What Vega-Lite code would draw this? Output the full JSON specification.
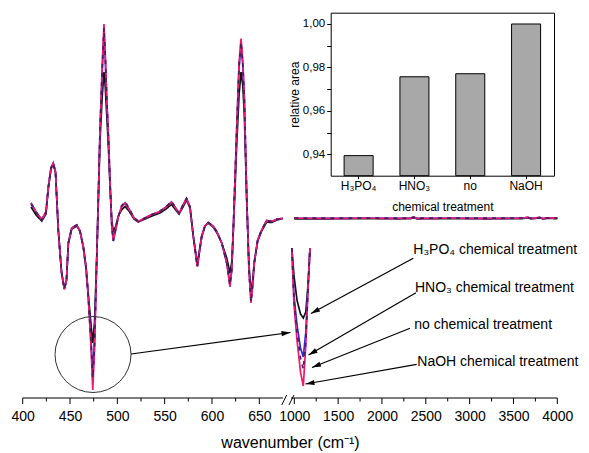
{
  "$schema": "https://vega.github.io/schema/vega-lite/v6.json",
  "width": 589,
  "height": 398,
  "autosize": {"type": "none"},
  "padding": {"left": 0, "top": 0, "right": 0, "bottom": 55},
  "background": "white",
  "config": {
    "font": "Liberation Sans",
    "view": {"stroke": null},
    "legend": {"disable": true},
    "axis": {"grid": false, "labelColor": "#000", "titleColor": "#000", "domainColor": "#000", "tickColor": "#000", "titleFontWeight": "normal", "labelFont": "Liberation Sans", "titleFont": "Liberation Sans"}
  },
  "datasets": {
    "spec": [
      {"seg":"low","wn":408.8,"H3PO4":95.5,"HNO3":97.5,"NaOH":97.5,"no":97},
      {"seg":"low","wn":414.1,"H3PO4":91.5,"HNO3":93,"NaOH":93,"no":93},
      {"seg":"low","wn":420.1,"H3PO4":88.5,"HNO3":89.25,"NaOH":89.25,"no":88.75},
      {"seg":"low","wn":424.6,"H3PO4":92,"HNO3":93,"NaOH":93,"no":93},
      {"seg":"low","wn":427.1,"H3PO4":105,"HNO3":105.5,"NaOH":105.5,"no":105.5},
      {"seg":"low","wn":429.9,"H3PO4":114.5,"HNO3":115,"NaOH":115,"no":115},
      {"seg":"low","wn":432.3,"H3PO4":117,"HNO3":117.5,"NaOH":117.5,"no":117.5},
      {"seg":"low","wn":434.7,"H3PO4":112.5,"HNO3":113,"NaOH":113,"no":113},
      {"seg":"low","wn":437.6,"H3PO4":84,"HNO3":84,"NaOH":84,"no":84},
      {"seg":"low","wn":441.0,"H3PO4":63,"HNO3":63,"NaOH":63,"no":63},
      {"seg":"low","wn":444.0,"H3PO4":54.5,"HNO3":54.5,"NaOH":54.5,"no":54.5},
      {"seg":"low","wn":446.3,"H3PO4":59,"HNO3":59,"NaOH":59,"no":59},
      {"seg":"low","wn":448.2,"H3PO4":77,"HNO3":77.5,"NaOH":77.5,"no":77.5},
      {"seg":"low","wn":451.8,"H3PO4":84.5,"HNO3":85,"NaOH":85,"no":85},
      {"seg":"low","wn":457.1,"H3PO4":86,"HNO3":86.5,"NaOH":86.5,"no":86.5},
      {"seg":"low","wn":460.5,"H3PO4":83.5,"HNO3":83.5,"NaOH":83.5,"no":83.5},
      {"seg":"low","wn":464.0,"H3PO4":76,"HNO3":75.5,"NaOH":75.5,"no":75.5},
      {"seg":"low","wn":466.9,"H3PO4":66,"HNO3":65,"NaOH":65,"no":65},
      {"seg":"low","wn":469.3,"H3PO4":52,"HNO3":50.5,"NaOH":50.5,"no":50.5},
      {"seg":"low","wn":472.2,"H3PO4":36.5,"HNO3":29,"NaOH":25.5,"no":27.5},
      {"seg":"low","wn":474.0,"H3PO4":27.5,"HNO3":13,"NaOH":4,"no":10},
      {"seg":"low","wn":475.9,"H3PO4":38,"HNO3":29,"NaOH":24,"no":26.5},
      {"seg":"low","wn":478.2,"H3PO4":70,"HNO3":69,"NaOH":67.5,"no":68},
      {"seg":"low","wn":480.1,"H3PO4":101.5,"HNO3":104,"NaOH":104,"no":104},
      {"seg":"low","wn":481.7,"H3PO4":129,"HNO3":134,"NaOH":134,"no":134},
      {"seg":"low","wn":484.1,"H3PO4":151.5,"HNO3":164,"NaOH":167.5,"no":165.5},
      {"seg":"low","wn":485.9,"H3PO4":163,"HNO3":183,"NaOH":187,"no":185},
      {"seg":"low","wn":487.3,"H3PO4":155,"HNO3":169,"NaOH":171.5,"no":170},
      {"seg":"low","wn":488.8,"H3PO4":141.5,"HNO3":149,"NaOH":150.5,"no":150},
      {"seg":"low","wn":490.7,"H3PO4":124,"HNO3":129,"NaOH":129,"no":129},
      {"seg":"low","wn":492.2,"H3PO4":106.5,"HNO3":109,"NaOH":109,"no":109},
      {"seg":"low","wn":494.1,"H3PO4":89,"HNO3":86.5,"NaOH":86.5,"no":86.5},
      {"seg":"low","wn":495.7,"H3PO4":83.5,"HNO3":78.5,"NaOH":79,"no":78.5},
      {"seg":"low","wn":498.1,"H3PO4":85.5,"HNO3":84,"NaOH":84,"no":84},
      {"seg":"low","wn":501.0,"H3PO4":91,"HNO3":90.5,"NaOH":90.5,"no":90.5},
      {"seg":"low","wn":504.4,"H3PO4":94,"HNO3":95.5,"NaOH":95.5,"no":96},
      {"seg":"low","wn":508.1,"H3PO4":95.75,"HNO3":97.5,"NaOH":97.5,"no":98.25},
      {"seg":"low","wn":512.3,"H3PO4":93.5,"HNO3":94.5,"NaOH":94.5,"no":95},
      {"seg":"low","wn":517.6,"H3PO4":89.5,"HNO3":90,"NaOH":90,"no":90},
      {"seg":"low","wn":522.1,"H3PO4":88,"HNO3":88.25,"NaOH":88.25,"no":88.5},
      {"seg":"low","wn":529.2,"H3PO4":89.5,"HNO3":90,"NaOH":90,"no":90},
      {"seg":"low","wn":536.6,"H3PO4":91,"HNO3":91.75,"NaOH":91.75,"no":91.75},
      {"seg":"low","wn":545.1,"H3PO4":92.5,"HNO3":93.25,"NaOH":93.25,"no":93.5},
      {"seg":"low","wn":551.4,"H3PO4":94.5,"HNO3":95.5,"NaOH":95.5,"no":95.5},
      {"seg":"low","wn":557.2,"H3PO4":96.75,"HNO3":98,"NaOH":98,"no":98.5},
      {"seg":"low","wn":560.9,"H3PO4":94.5,"HNO3":95.5,"NaOH":95.5,"no":95.5},
      {"seg":"low","wn":565.2,"H3PO4":92,"HNO3":92.25,"NaOH":92.25,"no":92.25},
      {"seg":"low","wn":569.4,"H3PO4":95.5,"HNO3":96.5,"NaOH":96.5,"no":96.5},
      {"seg":"low","wn":573.1,"H3PO4":99,"HNO3":99.75,"NaOH":99.75,"no":99.75},
      {"seg":"low","wn":576.8,"H3PO4":95,"HNO3":95.5,"NaOH":95.5,"no":95.5},
      {"seg":"low","wn":580.3,"H3PO4":81,"HNO3":80.5,"NaOH":80.5,"no":80.5},
      {"seg":"low","wn":584.5,"H3PO4":67,"HNO3":65.75,"NaOH":65.75,"no":65.75},
      {"seg":"low","wn":589.1,"H3PO4":81,"HNO3":80.5,"NaOH":80.5,"no":80.5},
      {"seg":"low","wn":592.6,"H3PO4":86,"HNO3":86,"NaOH":86,"no":86},
      {"seg":"low","wn":596.1,"H3PO4":87.5,"HNO3":87.65,"NaOH":87.65,"no":87.65},
      {"seg":"low","wn":601.1,"H3PO4":85.5,"HNO3":86,"NaOH":86,"no":86},
      {"seg":"low","wn":605.3,"H3PO4":82.5,"HNO3":83,"NaOH":83,"no":83},
      {"seg":"low","wn":610.3,"H3PO4":77.5,"HNO3":77.5,"NaOH":77.5,"no":77.5},
      {"seg":"low","wn":615.6,"H3PO4":70,"HNO3":67.5,"NaOH":67.5,"no":67.5},
      {"seg":"low","wn":619.0,"H3PO4":62.5,"HNO3":57.5,"NaOH":55.5,"no":56.5},
      {"seg":"low","wn":620.9,"H3PO4":68,"HNO3":64,"NaOH":64,"no":64},
      {"seg":"low","wn":622.5,"H3PO4":83,"HNO3":84,"NaOH":84,"no":84},
      {"seg":"low","wn":624.3,"H3PO4":104,"HNO3":109,"NaOH":109,"no":109},
      {"seg":"low","wn":626.1,"H3PO4":126.5,"HNO3":134,"NaOH":134,"no":134},
      {"seg":"low","wn":628.6,"H3PO4":151.5,"HNO3":165,"NaOH":167.5,"no":166},
      {"seg":"low","wn":630.7,"H3PO4":163,"HNO3":176.5,"NaOH":179.75,"no":178},
      {"seg":"low","wn":632.5,"H3PO4":156.5,"HNO3":166.5,"NaOH":169,"no":167.5},
      {"seg":"low","wn":634.2,"H3PO4":141.5,"HNO3":149,"NaOH":150.5,"no":150},
      {"seg":"low","wn":636.7,"H3PO4":99,"HNO3":100.5,"NaOH":100.5,"no":100.5},
      {"seg":"low","wn":639.1,"H3PO4":66.5,"HNO3":64,"NaOH":64,"no":64},
      {"seg":"low","wn":641.2,"H3PO4":52.5,"HNO3":49,"NaOH":47.5,"no":48},
      {"seg":"low","wn":643.0,"H3PO4":59,"HNO3":56.5,"NaOH":56.5,"no":56.5},
      {"seg":"low","wn":644.7,"H3PO4":68,"HNO3":67.5,"NaOH":67.5,"no":67.5},
      {"seg":"low","wn":648.3,"H3PO4":78.5,"HNO3":79,"NaOH":79,"no":79},
      {"seg":"low","wn":652.5,"H3PO4":83.5,"HNO3":84,"NaOH":84,"no":84},
      {"seg":"low","wn":657.8,"H3PO4":88,"HNO3":88.75,"NaOH":88.75,"no":88.75},
      {"seg":"low","wn":663.1,"H3PO4":87.75,"HNO3":88.25,"NaOH":88.25,"no":88.25},
      {"seg":"low","wn":668.4,"H3PO4":89,"HNO3":89.35,"NaOH":89.35,"no":89.35},
      {"seg":"low","wn":675,"H3PO4":89.75,"HNO3":89.85,"NaOH":89.85,"no":89.85},
      {"seg":"high","wn":1000,"H3PO4":89.6,"HNO3":89.9,"NaOH":89.9,"no":90},
      {"seg":"high","wn":1400,"H3PO4":89.6,"HNO3":89.8,"NaOH":89.8,"no":89.9},
      {"seg":"high","wn":1800,"H3PO4":89.7,"HNO3":89.9,"NaOH":89.9,"no":89.9},
      {"seg":"high","wn":2200,"H3PO4":89.6,"HNO3":89.8,"NaOH":89.8,"no":89.9},
      {"seg":"high","wn":2330,"H3PO4":89.7,"HNO3":89.9,"NaOH":89.9,"no":90},
      {"seg":"high","wn":2360,"H3PO4":90.1,"HNO3":90.3,"NaOH":90.5,"no":90.4},
      {"seg":"high","wn":2400,"H3PO4":89.6,"HNO3":89.8,"NaOH":89.8,"no":89.9},
      {"seg":"high","wn":2800,"H3PO4":89.7,"HNO3":89.9,"NaOH":89.9,"no":89.9},
      {"seg":"high","wn":3200,"H3PO4":89.6,"HNO3":89.8,"NaOH":89.8,"no":89.9},
      {"seg":"high","wn":3600,"H3PO4":89.7,"HNO3":89.9,"NaOH":89.9,"no":90},
      {"seg":"high","wn":3660,"H3PO4":90.1,"HNO3":90.3,"NaOH":90.4,"no":90.3},
      {"seg":"high","wn":3700,"H3PO4":89.6,"HNO3":89.8,"NaOH":89.8,"no":89.8},
      {"seg":"high","wn":3800,"H3PO4":90,"HNO3":90.2,"NaOH":90.3,"no":90.2},
      {"seg":"high","wn":3840,"H3PO4":89.5,"HNO3":89.7,"NaOH":89.7,"no":89.7},
      {"seg":"high","wn":3880,"H3PO4":89.8,"HNO3":90,"NaOH":90.1,"no":90},
      {"seg":"high","wn":4000,"H3PO4":89.7,"HNO3":89.9,"NaOH":89.9,"no":89.9},
      {"seg":"zoom","wn":928.4,"H3PO4":75,"HNO3":75,"NaOH":75,"no":75},
      {"seg":"zoom","wn":991.4,"H3PO4":61,"HNO3":51,"NaOH":46.5,"no":49},
      {"seg":"zoom","wn":1030.8,"H3PO4":49,"HNO3":36.5,"NaOH":29,"no":33},
      {"seg":"zoom","wn":1070.7,"H3PO4":42,"HNO3":25,"NaOH":13,"no":20},
      {"seg":"zoom","wn":1102.7,"H3PO4":40,"HNO3":20.5,"NaOH":6,"no":14.5},
      {"seg":"zoom","wn":1131.2,"H3PO4":43,"HNO3":33,"NaOH":26.5,"no":29},
      {"seg":"zoom","wn":1156.3,"H3PO4":56.5,"HNO3":55,"NaOH":54,"no":54},
      {"seg":"zoom","wn":1179.1,"H3PO4":75,"HNO3":75,"NaOH":75,"no":75}
    ],
    "axisticks": [
      {"wn":400,"a":0,"kind":"major"},{"wn":450,"a":0,"kind":"major"},{"wn":500,"a":0,"kind":"major"},{"wn":550,"a":0,"kind":"major"},{"wn":600,"a":0,"kind":"major"},{"wn":650,"a":0,"kind":"major"},
      {"wn":1000,"a":0,"kind":"major"},{"wn":1500,"a":0,"kind":"major"},{"wn":2000,"a":0,"kind":"major"},{"wn":2500,"a":0,"kind":"major"},{"wn":3000,"a":0,"kind":"major"},{"wn":3500,"a":0,"kind":"major"},{"wn":4000,"a":0,"kind":"major"},
      {"wn":425,"a":0,"kind":"minor"},{"wn":475,"a":0,"kind":"minor"},{"wn":525,"a":0,"kind":"minor"},{"wn":575,"a":0,"kind":"minor"},{"wn":625,"a":0,"kind":"minor"},
      {"wn":1250,"a":0,"kind":"minor"},{"wn":1750,"a":0,"kind":"minor"},{"wn":2250,"a":0,"kind":"minor"},{"wn":2750,"a":0,"kind":"minor"},{"wn":3250,"a":0,"kind":"minor"},{"wn":3750,"a":0,"kind":"minor"}
    ],
    "arrows": [
      {"id":"circ","wn":891.1,"a":32.75,"wn2":514.4,"a2":22},
      {"id":"H3PO4","wn":1190.5,"a":42.25,"wn2":2357.3,"a2":69.85},
      {"id":"HNO3","wn":1162.0,"a":21.5,"wn2":2388.1,"a2":52.65},
      {"id":"no","wn":1201.9,"a":15.25,"wn2":2319.7,"a2":34.85},
      {"id":"NaOH","wn":1127.7,"a":7,"wn2":2396.1,"a2":16.85}
    ],
    "texts": [
      {"label":"H₃PO₄ chemical treatment","wn":2357.3,"a":74},
      {"label":"HNO₃ chemical treatment","wn":2376.7,"a":55},
      {"label":"no chemical treatment","wn":2368.7,"a":36.65},
      {"label":"NaOH chemical treatment","wn":2403,"a":18.15}
    ],
    "axisbits": [
      {"part":"line","wn":400,"a":0,"wn2":675,"a2":0},
      {"part":"line","wn":905,"a":0,"wn2":4000,"a2":0},
      {"part":"slash","wn":673.7,"a":-3.5,"wn2":782.2,"a2":1.5},
      {"part":"slash","wn":848.1,"a":-3.5,"wn2":991.4,"a2":1.5}
    ],
    "circle": [{"wn":474.3,"a":21.75}],
    "bars": [
      {"treatment":"H₃PO₄","area":0.9394},
      {"treatment":"HNO₃","area":0.9757},
      {"treatment":"no","area":0.9771},
      {"treatment":"NaOH","area":1.0}
    ]
  },
  "layer": [
    {
      "encoding": {
        "x": {
          "field": "wn", "type": "quantitative",
          "scale": {"domain": [400, 675, 1000, 4000], "range": [22.7, 282.96, 294.3, 557.3], "nice": false, "zero": false},
          "axis": {
            "orient": "bottom",
            "values": [400,450,500,550,600,650,1000,1500,2000,2500,3000,3500,4000],
            "format": "d",
            "ticks": false,
            "domain": false,
            "labelFontSize": 14, "labelPadding": 11, "labelFlush": false, "labelOverlap": false,
            "title": "wavenumber (cm⁻¹)", "titleFontSize": 16, "titlePadding": 11
          }
        },
        "y": {
          "field": "a", "type": "quantitative",
          "scale": {"domain": [0, 199], "nice": false, "zero": false},
          "axis": null
        }
      },
      "layer": [
        {
          "data": {"name": "spec"},
          "transform": [{"fold": ["H3PO4", "HNO3", "NaOH", "no"], "as": ["treatment", "a"]}],
          "mark": {"type": "line", "strokeWidth": 1.7},
          "encoding": {
            "color": {"field": "treatment", "type": "nominal", "scale": {"domain": ["H3PO4", "HNO3", "NaOH", "no"], "range": ["#111111", "#2b2bdd", "#f0186c", "#4a1d5e"]}},
            "strokeDash": {"field": "treatment", "type": "nominal", "scale": {"domain": ["H3PO4", "HNO3", "NaOH", "no"], "range": [[1, 0], [1, 0], [1, 0], [4, 5]]}},
            "detail": {"field": "seg", "type": "nominal"}
          }
        },
        {
          "data": {"name": "axisbits"},
          "mark": {"type": "rule", "color": "#000", "strokeWidth": 1},
          "encoding": {"x2": {"field": "wn2"}, "y2": {"field": "a2"}}
        },
        {
          "data": {"name": "axisticks"},
          "transform": [{"filter": "datum.kind == 'major'"}],
          "mark": {"type": "rule", "color": "#000", "strokeWidth": 1},
          "encoding": {"y2": {"datum": -3}}
        },
        {
          "data": {"name": "axisticks"},
          "transform": [{"filter": "datum.kind == 'minor'"}],
          "mark": {"type": "rule", "color": "#000", "strokeWidth": 1},
          "encoding": {"y2": {"datum": -1.75}}
        },
        {
          "data": {"name": "circle"},
          "mark": {"type": "point", "shape": "circle", "size": 5776, "filled": false, "stroke": "#333", "strokeWidth": 1, "opacity": 1}
        },
        {
          "data": {"name": "arrows"},
          "mark": {"type": "rule", "color": "#000", "strokeWidth": 1.2},
          "encoding": {"x2": {"field": "wn2"}, "y2": {"field": "a2"}}
        },
        {
          "data": {"name": "arrows"},
          "transform": [{"filter": "datum.id == 'circ'"}],
          "mark": {"type": "point", "shape": "M0,0L-1.3,4.5L1.3,4.5Z", "size": 16, "filled": true, "fill": "#000", "opacity": 1, "angle": 82.4}
        },
        {
          "data": {"name": "arrows"},
          "transform": [{"filter": "datum.id == 'H3PO4'"}],
          "mark": {"type": "point", "shape": "M0,0L-1.3,4.5L1.3,4.5Z", "size": 16, "filled": true, "fill": "#000", "opacity": 1, "angle": 241.6}
        },
        {
          "data": {"name": "arrows"},
          "transform": [{"filter": "datum.id == 'HNO3'"}],
          "mark": {"type": "point", "shape": "M0,0L-1.3,4.5L1.3,4.5Z", "size": 16, "filled": true, "fill": "#000", "opacity": 1, "angle": 240}
        },
        {
          "data": {"name": "arrows"},
          "transform": [{"filter": "datum.id == 'no'"}],
          "mark": {"type": "point", "shape": "M0,0L-1.3,4.5L1.3,4.5Z", "size": 16, "filled": true, "fill": "#000", "opacity": 1, "angle": 248.2}
        },
        {
          "data": {"name": "arrows"},
          "transform": [{"filter": "datum.id == 'NaOH'"}],
          "mark": {"type": "point", "shape": "M0,0L-1.3,4.5L1.3,4.5Z", "size": 16, "filled": true, "fill": "#000", "opacity": 1, "angle": 260}
        },
        {
          "data": {"name": "texts"},
          "mark": {"type": "text", "align": "left", "baseline": "middle", "fontSize": 14, "font": "Liberation Sans", "color": "#000"},
          "encoding": {"text": {"field": "label"}}
        }
      ]
    },
    {
      "data": {"name": "bars"},
      "layer": [
        {
          "mark": {"type": "bar", "fill": "#a8a8a8", "stroke": "#000", "strokeWidth": 1},
          "encoding": {
            "x": {
              "field": "treatment", "type": "nominal", "sort": null,
              "scale": {"domain": ["H₃PO₄", "HNO₃", "no", "NaOH"], "range": [330.7, 554], "paddingInner": 0.48, "paddingOuter": 0.24},
              "axis": {"orient": "bottom", "offset": -222.3, "title": "chemical treatment", "titleFontSize": 12, "titlePadding": 10, "labelFontSize": 12, "labelAngle": 0, "labelPadding": 2, "tickSize": 3}
            },
            "y": {
              "field": "area", "type": "quantitative",
              "scale": {"domain": [0.93016, 1.0052], "range": [175.7, 12.7], "zero": false, "nice": false},
              "axis": {
                "orient": "left", "offset": -330.7,
                "values": [0.94, 0.95, 0.96, 0.97, 0.98, 0.99, 1.0],
                "labelExpr": "round(datum.value*100) % 2 == 0 ? replace(format(datum.value, '.2f'), '.', ',') : ''",
                "tickSize": 4,
                "title": "relative area", "titleFontSize": 12, "titlePadding": 1, "labelFontSize": 11.5, "labelPadding": 2
              }
            },
            "y2": {"datum": 0.93016}
          }
        },
        {
          "mark": {"type": "bar", "opacity": 0},
          "encoding": {
            "x": {
              "field": "treatment", "type": "nominal", "sort": null,
              "scale": {"domain": ["H₃PO₄", "HNO₃", "no", "NaOH"], "range": [330.7, 554], "paddingInner": 0.48, "paddingOuter": 0.24},
              "axis": {"orient": "top", "offset": -12.7, "title": null, "labels": false, "ticks": false}
            },
            "y": {
              "field": "area", "type": "quantitative",
              "scale": {"domain": [0.93016, 1.0052], "range": [175.7, 12.7], "zero": false, "nice": false},
              "axis": {"orient": "right", "offset": -35, "title": null, "labels": false, "ticks": false}
            },
            "y2": {"datum": 0.93016}
          }
        }
      ],
      "resolve": {"axis": {"x": "independent", "y": "independent"}}
    }
  ],
  "resolve": {
    "scale": {"x": "independent", "y": "independent"},
    "axis": {"x": "independent", "y": "independent"}
  }
}
